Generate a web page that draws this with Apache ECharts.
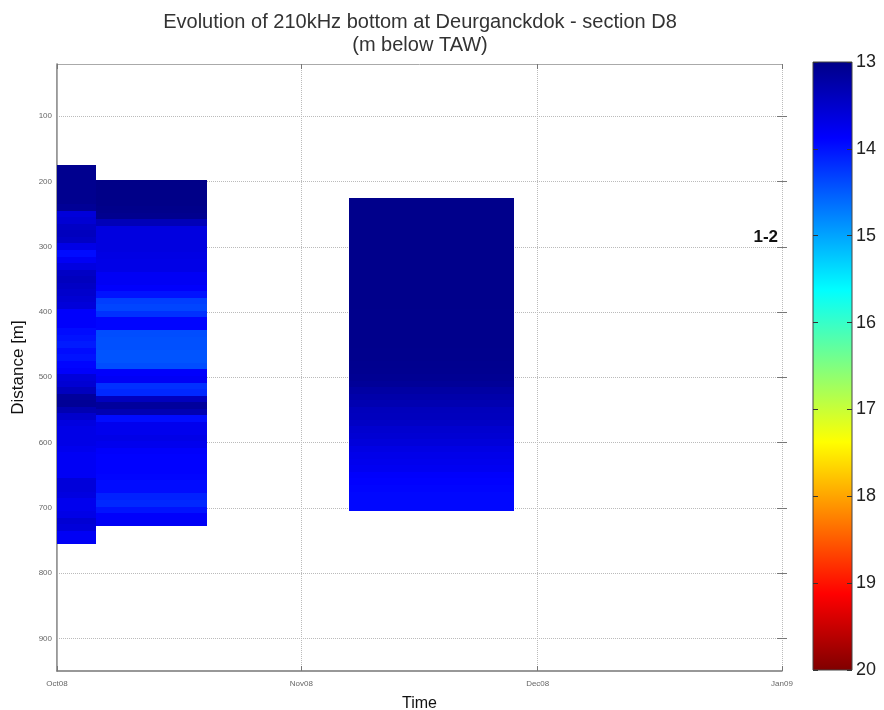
<!DOCTYPE html>
<html>
<head>
<meta charset="utf-8">
<script src="https://cdn.jsdelivr.net/npm/echarts@6/dist/echarts.min.js"></script>
<style>
  html, body { margin: 0; padding: 0; background: #fff; }
  #chart { width: 884px; height: 710px; }
</style>
</head>
<body>
<div id="chart"></div>
<script>
// ---- Axis ticks ----
const monthTicks = ['2008-10-01', '2008-11-01', '2008-12-01', '2009-01-01'];
const monthLabels = ['Oct08', 'Nov08', 'Dec08', 'Jan09'];
const distanceTicks = [100, 200, 300, 400, 500, 600, 700, 800, 900];
const colorbarTicks = [13, 14, 15, 16, 17, 18, 19, 20];

// ---- Surveys: time span, first distance bin (m) and 10 m bin depths (m below TAW) ----
const surveyStart = ['2008-10-01', '2008-10-06', '2008-11-07'];
const surveyEnd = ['2008-10-06', '2008-10-20', '2008-11-28'];
const profileTop = [175, 198, 225];
const binSize = 10;

const depthSurvey1 = [
  13.05, 13.05, 13.05, 13.05, 13.05, 13.05, 13.1, 13.6, 13.55, 13.45,
  13.4, 13.45, 13.7, 13.95, 13.8, 13.65, 13.45, 13.4, 13.45, 13.5,
  13.55, 13.6, 13.85, 13.85, 13.85, 13.95, 14.0, 14.05, 13.95, 14.0,
  13.9, 13.85, 13.6, 13.55, 13.4, 13.15, 13.1, 13.3, 13.5, 13.65,
  13.7, 13.7, 13.7, 13.75, 13.8, 13.8, 13.8, 13.8, 13.6, 13.6,
  13.65, 13.75, 13.75, 13.7, 13.55, 13.6, 13.8, 13.8
];
const depthSurvey2 = [
  13.0, 13.0, 13.0, 13.0, 13.02, 13.05, 13.35, 13.65, 13.65, 13.65,
  13.65, 13.68, 13.7, 13.7, 13.8, 13.8, 13.85, 14.0, 14.3, 14.35,
  14.2, 13.9, 13.9, 14.4, 14.42, 14.42, 14.45, 14.45, 14.4, 13.85,
  13.8, 14.2, 14.15, 13.4, 13.15, 13.3, 13.95, 13.75, 13.75, 13.7,
  13.75, 13.85, 13.88, 13.88, 13.88, 13.9, 13.95, 13.95, 14.1, 14.15,
  14.0, 13.85, 13.8
];
const depthSurvey3 = [
  13.02, 13.02, 13.02, 13.02, 13.02, 13.02, 13.02, 13.02, 13.02, 13.02,
  13.02, 13.02, 13.02, 13.02, 13.02, 13.02, 13.02, 13.03, 13.03, 13.03,
  13.03, 13.03, 13.03, 13.04, 13.04, 13.05, 13.06, 13.08, 13.12, 13.2,
  13.25, 13.3, 13.38, 13.4, 13.45, 13.52, 13.55, 13.6, 13.68, 13.72,
  13.75, 13.78, 13.85, 13.88, 13.9, 13.92, 13.92, 13.92
];
const surveyDepths = [depthSurvey1, depthSurvey2, depthSurvey3];

// ---- Section annotation ----
const noteText = ['1-2'];
const noteDate = ['2008-12-31T12:00:00'];
const noteDistance = [285];

// ---- Jet colour scale ----
const depthMin = 13, depthMax = 20;
const jetColors = ['#000088', '#0000ff', '#0080ff', '#00ffff', '#80ff80',
                   '#ffff00', '#ff8000', '#ff0000', '#800000'];

// day offset from the first month tick
const t0 = Date.parse(monthTicks[0] + 'T00:00:00Z');
function toDay(s) {
  const iso = s.length > 10 ? s + 'Z' : s + 'T00:00:00Z';
  return (Date.parse(iso) - t0) / 86400000;
}
const monthDays = monthTicks.map(toDay);

// cells: [startDay, endDay, distTop, distBottom, depth]
const cells = [];
surveyDepths.forEach(function (vals, i) {
  const x0 = toDay(surveyStart[i]), x1 = toDay(surveyEnd[i]);
  vals.forEach(function (v, k) {
    const d0 = profileTop[i] + k * binSize;
    cells.push([x0, x1, d0, d0 + binSize, v]);
  });
});
const notes = noteText.map(function (t, i) { return [toDay(noteDate[i]), noteDistance[i], t]; });

const FONT = 'Liberation Sans, Arial, sans-serif';
const chart = echarts.init(document.getElementById('chart'));

const PLOT = { left: 57, top: 64, width: 725, height: 607 };
const BAR = { left: 813, top: 62, width: 39, height: 608 };

const xRange = { min: monthDays[0], max: monthDays[monthDays.length - 1] };
const yRange = { min: 20, max: 950 };

// an axis moved onto the opposite edge so that its outward ticks point into the box
function tickOnlyAxis(base, position, offset, values, color) {
  return Object.assign({}, base, {
    position: position, offset: offset, z: 10,
    axisLine: { show: false },
    axisTick: { show: true, length: 5, customValues: values, lineStyle: { color: color } },
    axisLabel: { show: false },
    splitLine: { show: false }
  });
}
// zero-length ticks: only there so the dotted grid follows the custom tick values
function hiddenTick(values) {
  return { show: true, length: 0, customValues: values, lineStyle: { color: 'rgba(0,0,0,0)' } };
}

const xBase = { type: 'value', gridIndex: 0, min: xRange.min, max: xRange.max };
const yBase = { type: 'value', gridIndex: 0, inverse: true, min: yRange.min, max: yRange.max };
const cbBase = { type: 'value', gridIndex: 1, inverse: true, min: depthMin, max: depthMax };

const option = {
  backgroundColor: '#fff',
  animation: false,
  graphic: [
    { type: 'text', x: 420, y: 22, style: { text: 'Evolution of 210kHz bottom at Deurganckdok - section D8', align: 'center', verticalAlign: 'middle', fontSize: 20, fontFamily: FONT, fill: '#333' } },
    { type: 'text', x: 420, y: 45, style: { text: '(m below TAW)', align: 'center', verticalAlign: 'middle', fontSize: 20, fontFamily: FONT, fill: '#333' } }
  ],
  grid: [
    Object.assign({ containLabel: false, outerBoundsMode: 'none' }, PLOT),
    Object.assign({ containLabel: false, outerBoundsMode: 'none', show: true, borderColor: '#444', borderWidth: 1,
                    backgroundColor: 'transparent', z: 10 }, BAR)
  ],
  xAxis: [
    Object.assign({}, xBase, {
      position: 'bottom',
      axisLine: { show: true, lineStyle: { color: '#777', width: 1.5 } },
      axisTick: hiddenTick(monthDays),
      axisLabel: {
        customValues: monthDays, fontSize: 8, color: '#666', fontFamily: FONT, margin: 9,
        formatter: function (v) { const i = monthDays.indexOf(v); return i >= 0 ? monthLabels[i] : ''; }
      },
      splitLine: { show: true, lineStyle: { type: 'dotted', color: '#bbb', width: 1 } },
      name: 'Time', nameLocation: 'middle', nameGap: 25,
      nameTextStyle: { fontSize: 16, color: '#111', fontFamily: FONT }
    }),
    Object.assign({}, xBase, {
      position: 'top',
      axisLine: { show: true, lineStyle: { color: '#aaa', width: 1 } },
      axisTick: { show: false }, axisLabel: { show: false }, splitLine: { show: false }
    }),
    tickOnlyAxis(xBase, 'top', -PLOT.height, monthDays, '#777'),
    tickOnlyAxis(xBase, 'bottom', -PLOT.height, monthDays, '#777'),
    { type: 'value', gridIndex: 1, min: 0, max: 1, show: false }
  ],
  yAxis: [
    Object.assign({}, yBase, {
      position: 'left',
      axisLine: { show: true, lineStyle: { color: '#777', width: 1.5 } },
      axisTick: hiddenTick(distanceTicks),
      axisLabel: { customValues: distanceTicks, fontSize: 8, color: '#666', fontFamily: FONT, margin: 5 },
      splitLine: { show: true, lineStyle: { type: 'dotted', color: '#bbb', width: 1 } },
      name: 'Distance [m]', nameLocation: 'middle', nameGap: 30, nameRotate: 90,
      nameTextStyle: { fontSize: 17, color: '#111', fontFamily: FONT }
    }),
    Object.assign({}, yBase, {
      position: 'right',
      axisLine: { show: true, lineStyle: { color: '#aaa', width: 1 } },
      axisTick: { show: false }, axisLabel: { show: false }, splitLine: { show: false }
    }),
    tickOnlyAxis(yBase, 'right', -PLOT.width, distanceTicks, '#777'),
    tickOnlyAxis(yBase, 'left', -PLOT.width, distanceTicks, '#777'),
    Object.assign({}, cbBase, {
      position: 'right',
      axisLine: { show: false },
      axisTick: { show: false },
      axisLabel: { customValues: colorbarTicks, fontSize: 18, color: '#222', fontFamily: FONT, margin: 4 },
      splitLine: { show: false }
    }),
    tickOnlyAxis(cbBase, 'left', -BAR.width, colorbarTicks, '#333'),
    tickOnlyAxis(cbBase, 'right', -BAR.width, colorbarTicks, '#333')
  ],
  visualMap: {
    show: false, type: 'continuous', min: depthMin, max: depthMax, dimension: 4, seriesIndex: 0,
    inRange: { color: jetColors }
  },
  series: [
    {
      type: 'custom', xAxisIndex: 0, yAxisIndex: 0, clip: true,
      encode: { x: [0, 1], y: [2, 3] },
      data: cells,
      renderItem: function (params, api) {
        const p0 = api.coord([api.value(0), api.value(2)]);
        const p1 = api.coord([api.value(1), api.value(3)]);
        const x0 = Math.round(p0[0]), x1 = Math.round(p1[0]);
        const y0 = Math.round(p0[1]), y1 = Math.round(p1[1]);
        return {
          type: 'rect',
          shape: { x: x0, y: y0, width: x1 - x0, height: y1 - y0 },
          style: { fill: api.visual('color'), stroke: null }
        };
      }
    },
    {
      // colour bar
      type: 'custom', xAxisIndex: 4, yAxisIndex: 4, z: 1,
      data: [[0, 1, depthMin, depthMax]],
      renderItem: function (params, api) {
        const p0 = api.coord([api.value(0), api.value(2)]);
        const p1 = api.coord([api.value(1), api.value(3)]);
        const stops = jetColors.map(function (c, i) { return { offset: i / (jetColors.length - 1), color: c }; });
        return {
          type: 'rect',
          shape: { x: p0[0], y: p0[1], width: p1[0] - p0[0], height: p1[1] - p0[1] },
          style: { fill: new echarts.graphic.LinearGradient(0, 0, 0, 1, stops) }
        };
      }
    },
    {
      type: 'custom', xAxisIndex: 0, yAxisIndex: 0, z: 5,
      data: notes,
      renderItem: function (params, api) {
        const p = api.coord([api.value(0), api.value(1)]);
        return {
          type: 'text', x: p[0], y: p[1],
          style: { text: notes[params.dataIndex][2], align: 'right', verticalAlign: 'middle',
                   fontSize: 17, fontWeight: 'bold', fontFamily: FONT, fill: '#111' }
        };
      }
    }
  ]
};
chart.setOption(option);
</script>
</body>
</html>
